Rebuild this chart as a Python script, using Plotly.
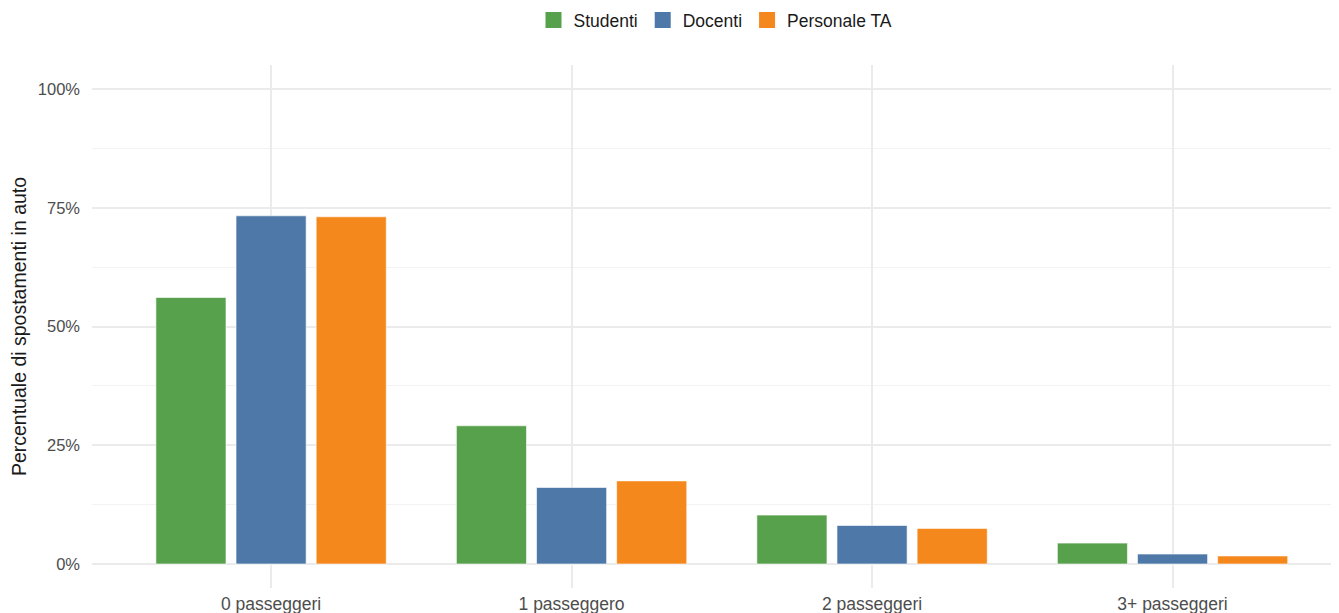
import plotly.graph_objects as go

categories = ["0 passeggeri", "1 passeggero", "2 passeggeri", "3+ passeggeri"]
studenti = [56.1, 29.1, 10.3, 4.4]
docenti = [73.3, 16.1, 8.1, 2.1]
personale_ta = [73.1, 17.5, 7.5, 1.7]
series_names = ["Studenti", "Docenti", "Personale TA"]
colors = ["#58A14C", "#4E78A7", "#F5881D"]
y_tickvals = [0, 25, 50, 75, 100]
y_ticktext = ["0%", "25%", "50%", "75%", "100%"]

fig = go.Figure()
for name, vals, col in zip(series_names, [studenti, docenti, personale_ta], colors):
    fig.add_trace(go.Bar(
        x=list(range(len(categories))), y=vals, name=name, legendgroup=name,
        showlegend=False,
        marker=dict(color=col, line=dict(color="rgba(255,255,255,0.6)", width=1)),
    ))
# legend entries with larger square swatches
for name, col in zip(series_names, colors):
    fig.add_trace(go.Scatter(
        x=[None], y=[None], mode="markers", name=name, legendgroup=name,
        marker=dict(symbol="square", size=22, color=col), showlegend=True,
    ))

font_family = "Liberation Sans, Arial, sans-serif"
fig.update_layout(
    width=1331, height=605,
    margin=dict(l=84, r=0, t=57, b=25, autoexpand=False),
    paper_bgcolor="white", plot_bgcolor="white",
    barmode="group", bargap=0.2, bargroupgap=0.125,
    font=dict(family=font_family, size=15, color="#4D4D4D"),
    showlegend=True,
    legend=dict(orientation="h", x=0.5, xanchor="center", y=1.086, yanchor="middle",
                font=dict(size=17.5, color="#1A1A1A"), traceorder="normal",
                itemsizing="trace"),
    xaxis=dict(
        range=[-0.596, 3.554], tickmode="array",
        tickvals=list(range(len(categories))), ticktext=categories,
        showgrid=True, gridcolor="#EBEBEB", gridwidth=2, zeroline=False,
        showline=False, ticks="", tickfont=dict(size=17.5, color="#4D4D4D"),
        ticklabelstandoff=3,
    ),
    yaxis=dict(
        range=[-5.05, 105.05], tickmode="array", tickvals=y_tickvals, ticktext=y_ticktext,
        showgrid=True, gridcolor="#EBEBEB", gridwidth=2, zeroline=False,
        showline=False, ticks="", tickfont=dict(size=16.5, color="#4D4D4D"),
        ticklabelstandoff=11,
        minor=dict(tickvals=[12.5, 37.5, 62.5, 87.5], showgrid=True, gridcolor="#F3F3F3", gridwidth=1),
        title=dict(text="Percentuale di spostamenti in auto", font=dict(size=19.5, color="#1A1A1A"), standoff=14),
    ),
)

fig.write_html("out.html")
